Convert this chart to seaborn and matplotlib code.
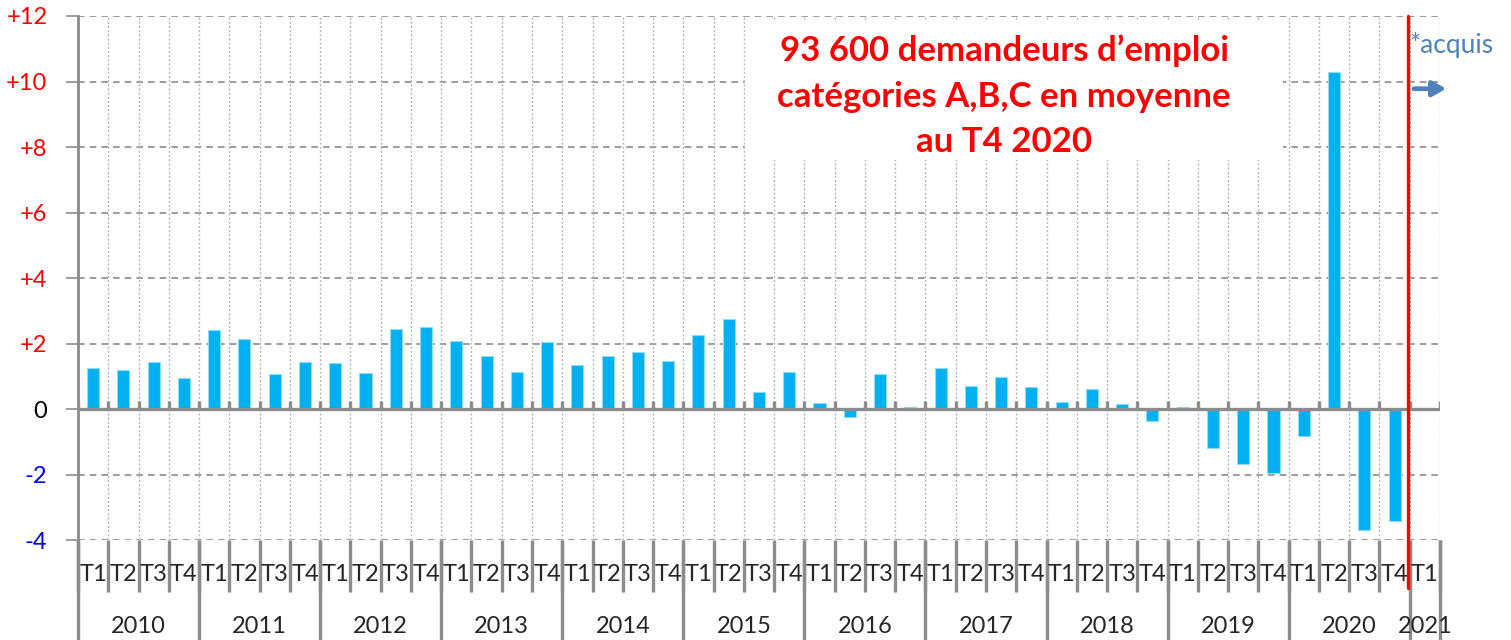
import numpy as np
import pandas as pd
import matplotlib
matplotlib.use("Agg")
import matplotlib.pyplot as plt
import matplotlib.transforms as mtransforms
from matplotlib.patches import Rectangle
import seaborn as sns

# Data: quarterly change (thousands) of job seekers A,B,C
years = ["2010", "2011", "2012", "2013", "2014", "2015", "2016", "2017", "2018", "2019", "2020"]
quarters = ["T1", "T2", "T3", "T4"]
values = [
    1.27, 1.20, 1.43, 0.94,    # 2010
    2.42, 2.15, 1.07, 1.43,    # 2011
    1.40, 1.10, 2.46, 2.50,    # 2012
    2.08, 1.62, 1.13, 2.05,    # 2013
    1.36, 1.62, 1.74, 1.47,    # 2014
    2.26, 2.75, 0.53, 1.14,    # 2015
    0.18, -0.25, 1.07, 0.06,   # 2016
    1.25, 0.70, 0.99, 0.66,    # 2017
    0.21, 0.62, 0.16, -0.36,   # 2018
    0.06, -1.18, -1.66, -1.94, # 2019
    -0.81, 10.28, -3.69, -3.40 # 2020
]
extra_year = "2021"
extra_quarter = "T1"
yticks = [-4, -2, 0, 2, 4, 6, 8, 10, 12]
ytick_labels = ["-4", "-2", "0", "+2", "+4", "+6", "+8", "+10", "+12"]
annotation = "93 600 demandeurs d\u2019emploi\ncatégories A,B,C en moyenne\nau T4 2020"

labels = [f"{y} {q}" for y in years for q in quarters]
df = pd.DataFrame({"periode": labels, "variation": values})
order = labels + [f"{extra_year} {extra_quarter}"]
n = len(order)

sns.set_style("white")
plt.rcParams["font.family"] = ["Lato", "DejaVu Sans"]

fig = plt.figure(figsize=(15.11, 6.4), dpi=100)
ax = fig.add_axes([0.0516, 0.156, 0.9014, 0.819])

GRAY = "#8c8c8c"
BLUE_BAR = "#00b0f0"

sns.barplot(data=df, x="periode", y="variation", order=order, color=BLUE_BAR,
            width=0.4, saturation=1, edgecolor="#8fdcf7", linewidth=0.8,
            ax=ax, zorder=4)

ax.set_xlim(-0.5, n - 0.5)
ax.set_ylim(-4, 12)

# grids
for yv in yticks:
    if yv != 0:
        ax.axhline(yv, color=GRAY, lw=1.2, ls=(0, (4, 3)), zorder=1)
for b in np.arange(n + 1) - 0.5:
    ax.vlines(b, -4, 12, color="#b5b5b5", lw=1.0, ls=(0, (1.5, 1.5)), zorder=1)

# white box behind annotation
ax.add_patch(Rectangle((21.55, 7.6), 17.75, 4.28, facecolor="white",
                       edgecolor="none", zorder=2))
ax.text(30.1, 9.55, annotation, color="red", fontsize=25, fontweight="bold",
        ha="center", va="center", linespacing=1.52, zorder=5)

# zero line with small ticks
ax.axhline(0, color=GRAY, lw=2.4, zorder=5)
ax.vlines(np.arange(n + 1) - 0.5, 0, 0.26, color=GRAY, lw=2.4, zorder=5)

# spines
for s in ["top", "right", "bottom"]:
    ax.spines[s].set_visible(False)
ax.spines["left"].set_color(GRAY)
ax.spines["left"].set_linewidth(2)

ax.set_yticks(yticks)
ax.set_yticklabels(ytick_labels, fontsize=17)
for lab, yv in zip(ax.get_yticklabels(), yticks):
    lab.set_color("red" if yv > 0 else ("black" if yv == 0 else "blue"))
ax.tick_params(axis="y", length=9, width=1.2, color=GRAY, pad=13, left=True)
ax.set_xticks([])
ax.set_xlabel("")
ax.set_ylabel("")

# multi-level category axis
trans = mtransforms.blended_transform_factory(ax.transData, ax.transAxes)
all_q = quarters * len(years) + [extra_quarter]
for i, q in enumerate(all_q):
    ax.text(i, -0.065, q, transform=trans, ha="center", va="center", fontsize=17)
for b in np.arange(n + 1) - 0.5:
    ax.plot([b, b], [0, -0.098], transform=trans, color=GRAY, lw=2.4,
            clip_on=False, solid_capstyle="butt")
year_list = years + [extra_year]
bounds = [-0.5 + 4 * k for k in range(len(years) + 1)] + [n - 0.5]
for k, y in enumerate(year_list):
    ax.text((bounds[k] + bounds[k + 1]) / 2, -0.165, y, transform=trans,
            ha="center", va="center", fontsize=17)
for b in bounds:
    ax.plot([b, b], [0, -0.2], transform=trans, color=GRAY, lw=2.4,
            clip_on=False, solid_capstyle="butt")

# red separator and "acquis" marker
ax.plot([43.44, 43.44], [1.0, -0.092], transform=trans, color="red", lw=2.4,
        clip_on=False, zorder=6)
ax.text(43.48, 11.1, "*acquis", color="#4f81bd", fontsize=19, ha="left",
        va="center", clip_on=False)
ax.annotate("", xy=(44.8, 9.78), xytext=(43.55, 9.78),
            arrowprops=dict(arrowstyle="-|>,head_length=0.8,head_width=0.45",
                            color="#4f81bd", lw=3.4), annotation_clip=False)

fig.savefig("out.png", dpi=100)
